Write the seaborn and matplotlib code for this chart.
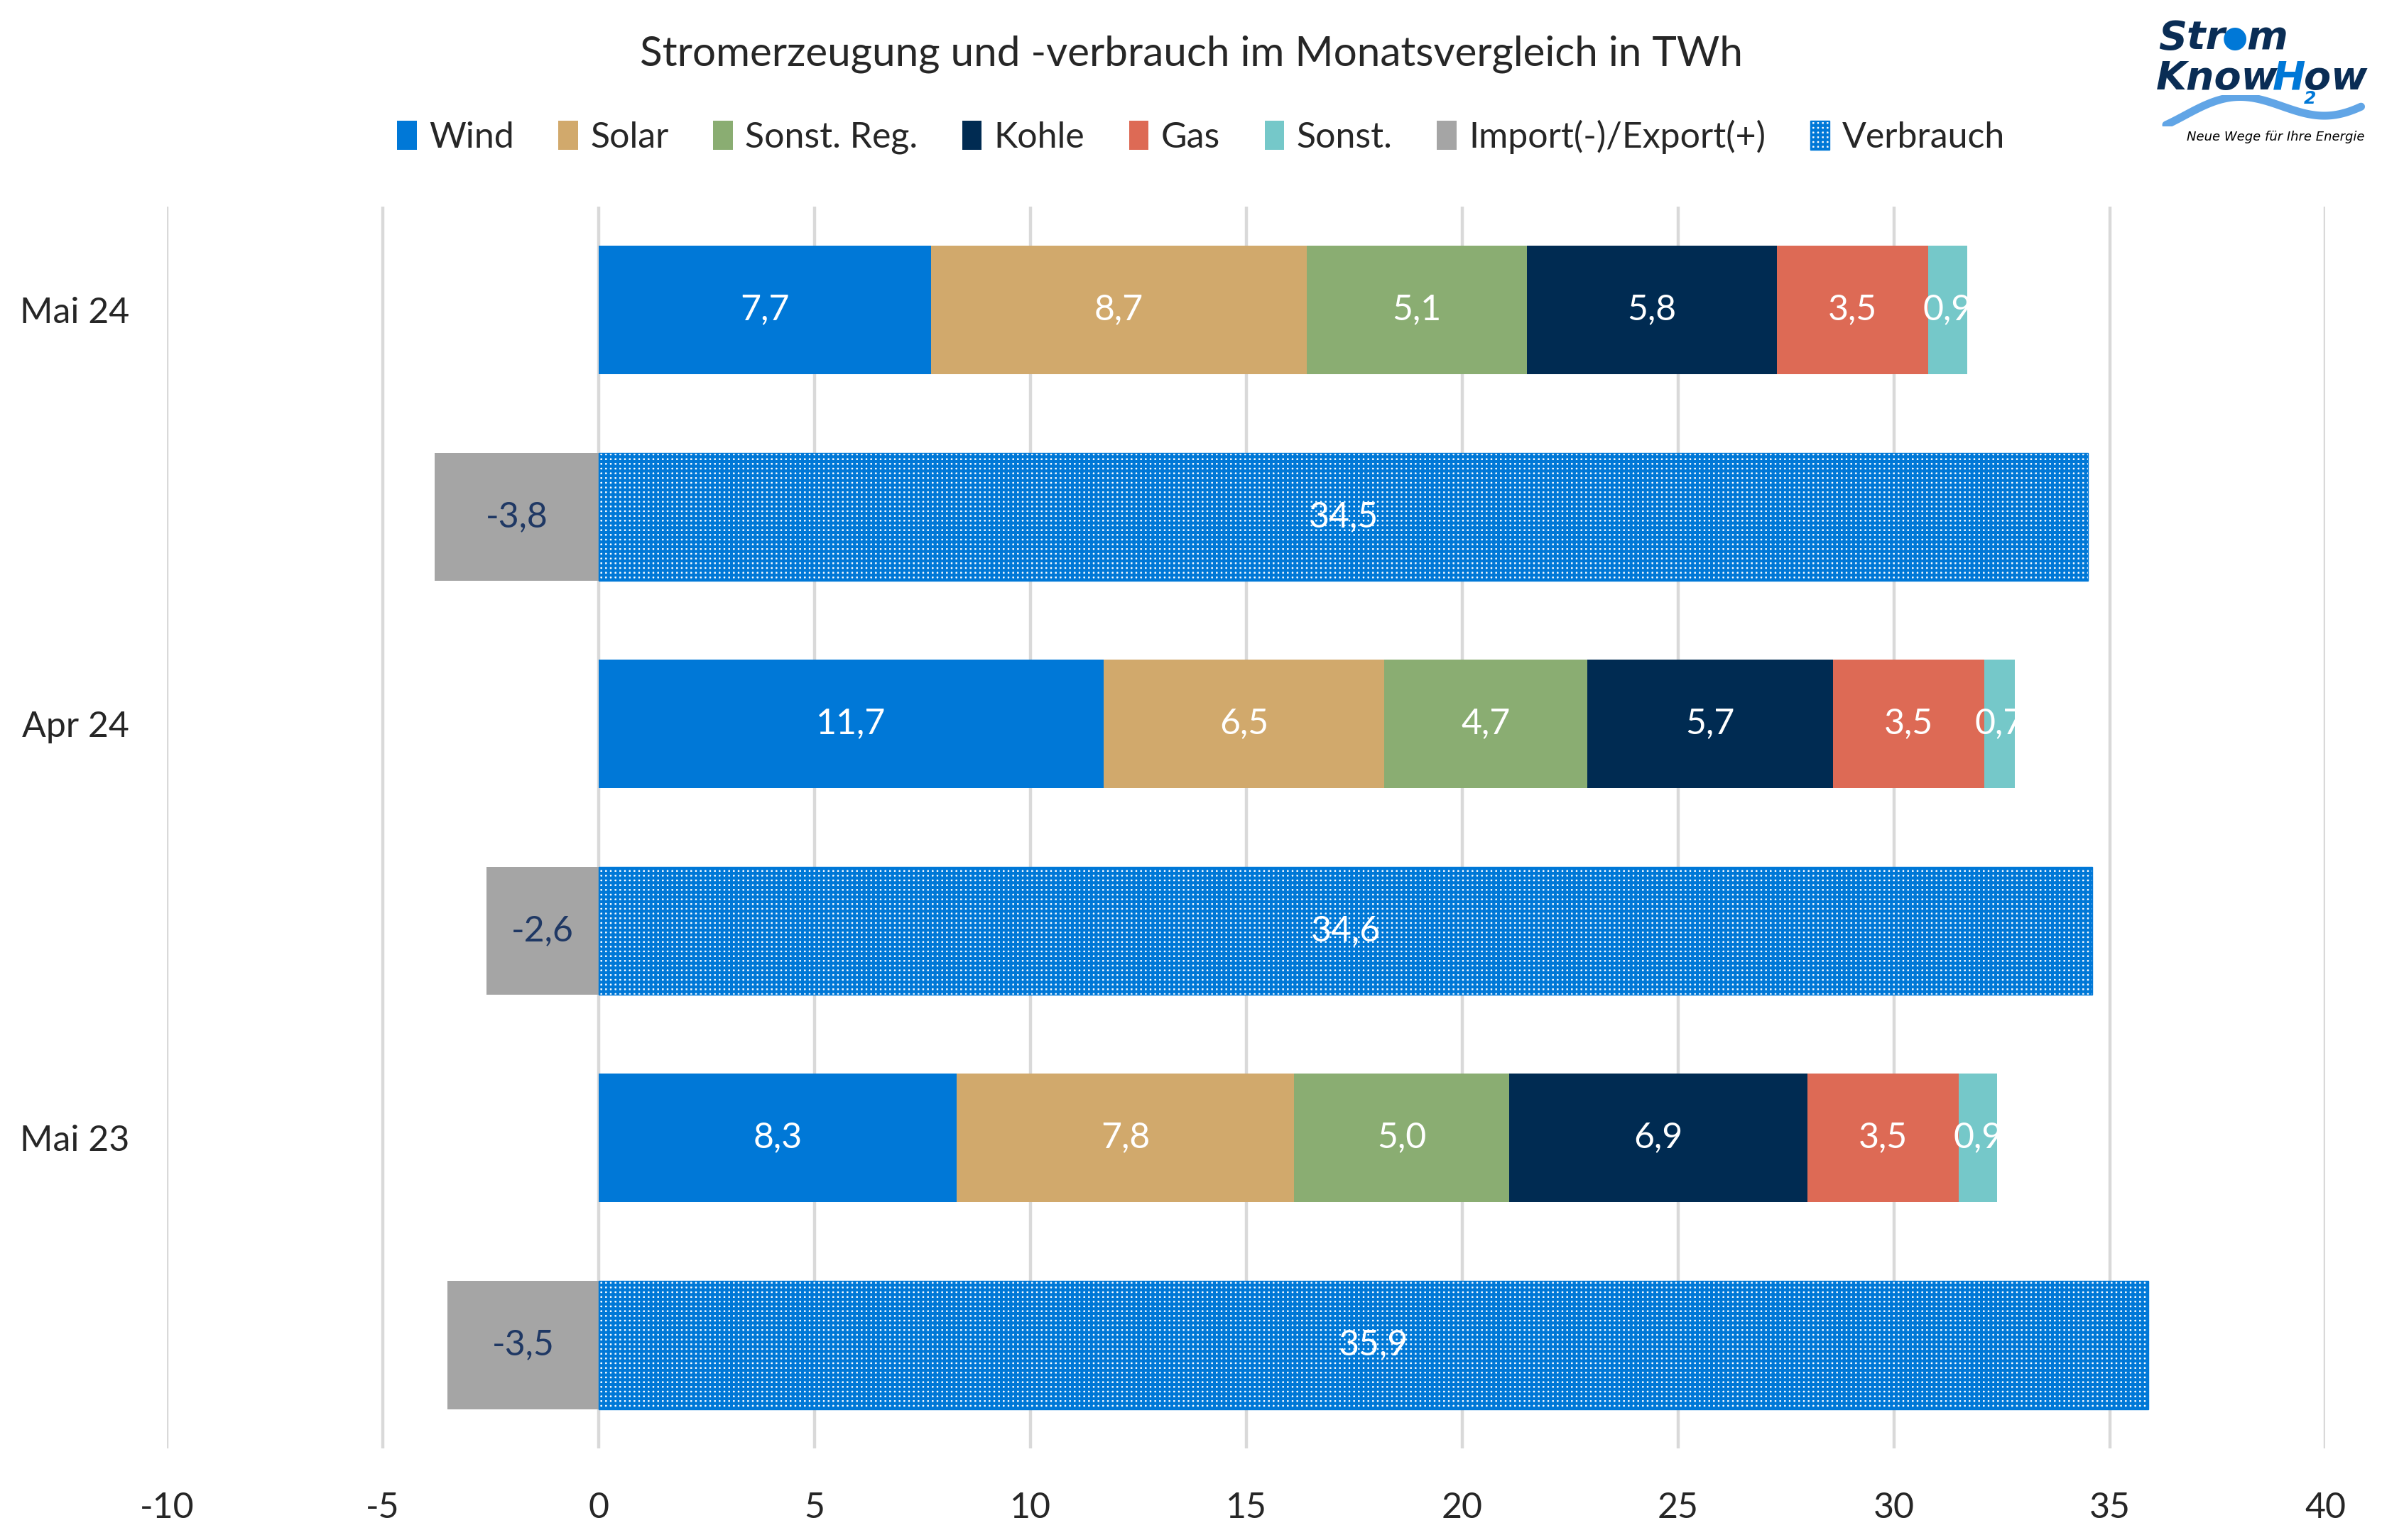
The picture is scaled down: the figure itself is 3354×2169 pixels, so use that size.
import numpy as np
import pandas as pd
import matplotlib.pyplot as plt
import seaborn as sns

# Daten (TWh)
monate = ["Mai 24", "Apr 24", "Mai 23"]
wind = [7.7, 11.7, 8.3]
solar = [8.7, 6.5, 7.8]
sonst_reg = [5.1, 4.7, 5.0]
kohle = [5.8, 5.7, 6.9]
gas = [3.5, 3.5, 3.5]
sonst = [0.9, 0.7, 0.9]
import_export = [-3.8, -2.6, -3.5]
verbrauch = [34.5, 34.6, 35.9]

quellen = ["Wind", "Solar", "Sonst. Reg.", "Kohle", "Gas", "Sonst."]
farben = ["#0078D7", "#D1A96C", "#8AAD72", "#002B52", "#DD6A55", "#75C8C9"]
grau = "#A5A5A5"
blau = "#0078D7"

sns.set_style("white")
plt.rcParams["font.family"] = ["Lato", "DejaVu Sans"]
plt.rcParams["hatch.linewidth"] = 1.5
plt.rcParams["axes.unicode_minus"] = False

fig = plt.figure(figsize=(3355 / 200, 2169 / 200), dpi=200)
ax = fig.add_axes([0.070, 0.0595, 0.906, 0.8065])

zeilen_gen = monate
zeilen_verb = [m + " " for m in monate]
reihenfolge = [z for pair in zip(zeilen_gen, zeilen_verb) for z in pair]

erz = pd.DataFrame({"Monat": monate, "Wind": wind, "Solar": solar, "Sonst. Reg.": sonst_reg,
                    "Kohle": kohle, "Gas": gas, "Sonst.": sonst})
kum = erz[quellen].cumsum(axis=1)

# gestapelte Erzeugung: von hinten nach vorne übermalen
for q, f in reversed(list(zip(quellen, farben))):
    sns.barplot(x=kum[q].values, y=zeilen_gen, order=reihenfolge, orient="h",
                color=f, saturation=1, width=0.62, linewidth=0, ax=ax, label=q)

sns.barplot(x=import_export, y=zeilen_verb, order=reihenfolge, orient="h",
            color=grau, saturation=1, width=0.62, linewidth=0, ax=ax, label="Import(-)/Export(+)")
sns.barplot(x=verbrauch, y=zeilen_verb, order=reihenfolge, orient="h",
            color="white", edgecolor=blau, hatch="+++++", saturation=1, width=0.62,
            linewidth=0.5, ax=ax, label="Verbrauch")

# Beschriftungen
def fmt(v):
    return f"{v:.1f}".replace(".", ",")

for i, m in enumerate(monate):
    start = 0
    for q in quellen:
        v = erz.loc[i, q]
        ax.text(start + v / 2, 2 * i, fmt(v), ha="center", va="center", color="white", fontsize=18)
        start += v
    ax.text(import_export[i] / 2, 2 * i + 1, fmt(import_export[i]), ha="center", va="center",
            color="#1F3864", fontsize=18)
    ax.text(verbrauch[i] / 2, 2 * i + 1, fmt(verbrauch[i]), ha="center", va="center",
            color="white", fontsize=18)

ax.set_xlim(-10, 40)
ax.set_ylim(5.5, -0.5)
ax.set_xticks(range(-10, 41, 5))
ax.set_yticks(range(6))
ax.set_yticklabels([z if z in monate else "" for z in reihenfolge])
ax.tick_params(axis="both", length=0, labelsize=18)
ax.tick_params(axis="y", pad=19)
ax.tick_params(axis="x", pad=22)
ax.set_xlabel("")
ax.set_ylabel("")
ax.xaxis.grid(True, color="#D9D9D9", linewidth=1.6)
ax.set_axisbelow(True)
sns.despine(ax=ax, left=True, bottom=True)

# Legende
handles, labels = ax.get_legend_handles_labels()
lookup = dict(zip(labels, handles))
namen = quellen + ["Import(-)/Export(+)", "Verbrauch"]
if ax.legend_:
    ax.legend_.remove()
fig.legend([lookup[n] for n in namen], namen, loc="center", bbox_to_anchor=(0.504, 0.911),
           ncol=8, frameon=False, fontsize=18, handlelength=0.55, handleheight=0.9,
           handletextpad=0.35, columnspacing=1.25)

fig.text(0.5, 0.965, "Stromerzeugung und -verbrauch im Monatsvergleich in TWh",
         ha="center", va="center", fontsize=21)

# Logo (vereinfacht), Teile nacheinander gesetzt
navy = "#0A2D55"
renderer = fig.canvas.get_renderer()

def logo_zeile(teile, x0, y):
    x = x0
    for txt, farbe, groesse, dy, weiter in teile:
        t = fig.text(x, y + dy, txt, ha="left", va="center", fontsize=groesse, fontweight="bold",
                     fontstyle="italic", color=farbe, family="DejaVu Sans")
        bb = t.get_window_extent(renderer)
        if weiter:
            x += bb.width / fig.bbox.width * 0.95

logo_zeile([("Str", navy, 20, 0, True), ("●", blau, 15, 0, True), ("m", navy, 20, 0, True)],
           0.906, 0.975)
logo_zeile([("Know", navy, 20, 0, True), ("H", blau, 20, 0, True), ("2", blau, 9, -0.013, False),
            ("ow", navy, 20, 0, True)], 0.905, 0.949)
wave = fig.add_axes([0.905, 0.918, 0.09, 0.02])
t = np.linspace(0, 1, 100)
wave.plot(t, np.sin(t * 2 * np.pi - 0.6) * 0.3 + t * 0.4, color="#3A8FE0", linewidth=4, alpha=0.8)
wave.axis("off")
fig.text(0.955, 0.911, "Neue Wege für Ihre Energie", ha="center", va="center", fontsize=6.5,
         fontstyle="italic", color="black", family="DejaVu Sans")

fig.savefig("out.png", dpi=200)
